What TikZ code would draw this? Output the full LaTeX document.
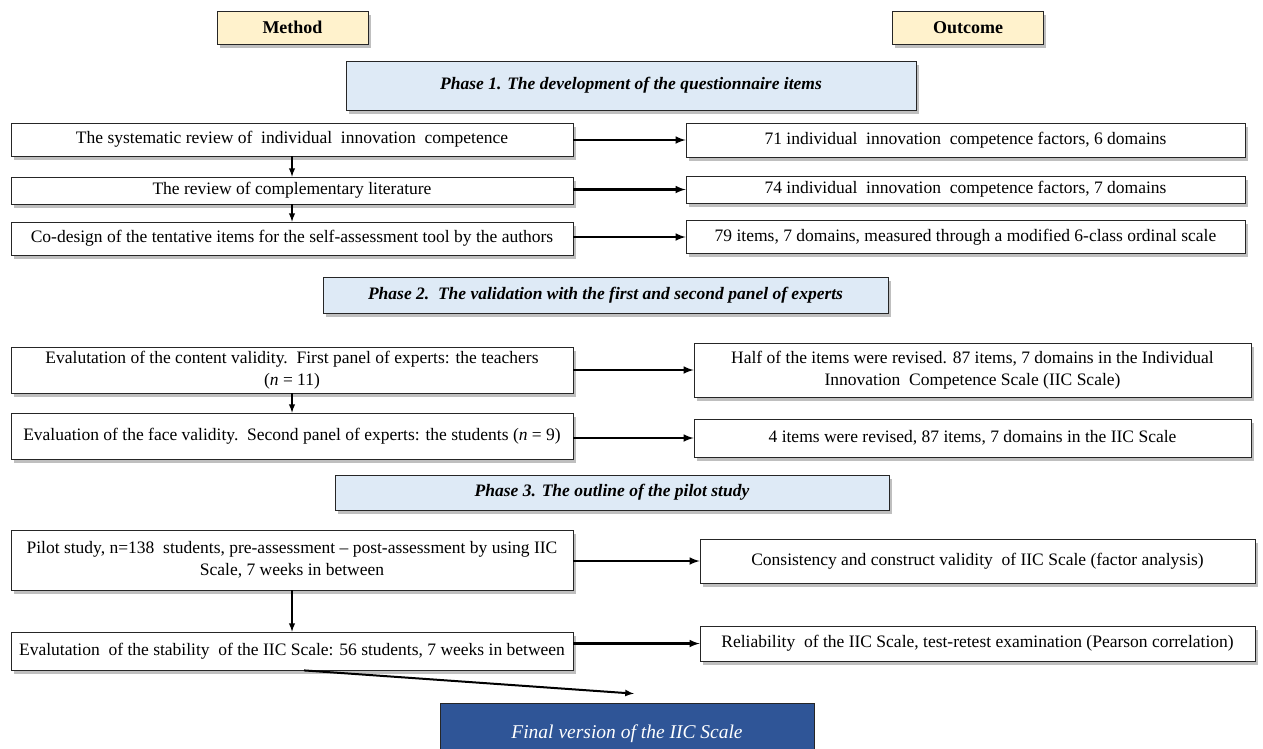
\documentclass[tikz,border=0pt]{standalone}
\usepackage{fontspec}
\setmainfont{Liberation Serif}
\usetikzlibrary{shadows}
\definecolor{headyellow}{RGB}{255,242,204}
\definecolor{phaseblue}{RGB}{222,234,246}
\definecolor{finalblue}{RGB}{47,85,151}
\begin{document}
\begin{tikzpicture}[x=1pt,y=1pt,
    box/.style={draw=black!85, line width=0.8pt, fill=white, align=center, inner sep=2pt,
      drop shadow={shadow xshift=2.5pt, shadow yshift=-3.5pt, opacity=0.5},
      font=\fontsize{17.5}{22}\selectfont},
    headbox/.style={box, fill=headyellow, minimum width=151pt, minimum height=33pt,
      font=\fontsize{18}{21}\selectfont\bfseries},
    phasebox/.style={box, fill=phaseblue, font=\fontsize{17.5}{21}\selectfont\bfseries\itshape},
    finalbox/.style={draw=black!85, line width=0.8pt, fill=finalblue, text=white,
      font=\fontsize{19.5}{23}\selectfont\itshape},
    flow/.style={-latex, line width=2.4pt},
    down/.style={-latex, line width=1.8pt}]
    \useasboundingbox (0,0) rectangle (1263,-748);
    
    % column heads
    \node[headbox] (method) at (292.5,-27.5) {Method};
    \node[headbox] (outcome) at (968,-27.5) {Outcome};
    
    % phase 1
    \node[phasebox, minimum width=570pt, minimum height=49pt] (phaseone) at (631,-85.5)
    {Phase 1. The development of the questionnaire items};
    \node[box, minimum width=562pt, minimum height=33pt] (sysrev) at (292,-139.5)
    {The systematic review of\ \ individual\ \ innovation\ \ competence};
    \node[box, minimum width=559pt, minimum height=34pt] (factorsix) at (965.5,-140)
    {71 individual\ \ innovation\ \ competence factors, 6 domains};
    \node[box, minimum width=562pt, minimum height=27pt] (litrev) at (292,-190.5)
    {The review of complementary literature};
    \node[box, minimum width=559pt, minimum height=27pt] (factorseven) at (965.5,-189.5)
    {74 individual\ \ innovation\ \ competence factors, 7 domains};
    \node[box, minimum width=562pt, minimum height=33pt] (codesign) at (292,-238.5)
    {Co-design of the tentative items for the self-assessment tool by the authors};
    \node[box, minimum width=559pt, minimum height=33pt] (itemsnine) at (965.5,-237)
    {79 items, 7 domains, measured through a modified 6-class ordinal scale};
    
    % phase 2
    \node[phasebox, minimum width=565pt, minimum height=36pt] (phasetwo) at (605.5,-295)
    {Phase 2.\ \ The validation with the first and second panel of experts};
    \node[box, minimum width=562pt, minimum height=46pt] (content) at (292,-370)
    {Evalutation of the content validity.\ \ First panel of experts: the teachers\\(\textit{n} = 11)};
    \node[box, minimum width=557pt, minimum height=54pt] (halfrev) at (972.5,-370)
    {Half of the items were revised. 87 items, 7 domains in the Individual\\Innovation\ \ Competence Scale (IIC Scale)};
    \node[box, minimum width=562pt, minimum height=46pt] (face) at (292,-436)
    {Evaluation of the face validity.\ \ Second panel of experts: the students (\textit{n} = 9)};
    \node[box, minimum width=557pt, minimum height=38pt] (fourrev) at (972.5,-438)
    {4 items were revised, 87 items, 7 domains in the IIC Scale};
    
    % phase 3
    \node[phasebox, minimum width=554pt, minimum height=35pt] (phasethree) at (612,-492.5)
    {Phase 3. The outline of the pilot study};
    \node[box, minimum width=562pt, minimum height=60pt] (pilot) at (292,-560)
    {Pilot study, n=138\ \ students, pre-assessment -- post-assessment by using IIC\\Scale, 7 weeks in between};
    \node[box, minimum width=555pt, minimum height=44pt] (construct) at (977.5,-561)
    {Consistency and construct validity\ \ of IIC Scale (factor analysis)};
    \node[box, minimum width=562pt, minimum height=38pt] (stability) at (292,-651)
    {Evalutation\ \ of the stability\ \ of the IIC Scale: 56 students, 7 weeks in between};
    \node[box, minimum width=555pt, minimum height=35pt] (retest) at (977.5,-643.5)
    {Reliability\ \ of the IIC Scale, test-retest examination (Pearson correlation)};
    
    \node[finalbox, minimum width=374pt, minimum height=62pt] (final) at (627,-734)
    {Final version of the IIC Scale};
    
    % method -> outcome
    \draw[flow] (sysrev.east |- factorsix) -- (factorsix.west);
    \draw[flow] (litrev.east |- factorseven) -- (factorseven.west);
    \draw[flow] (codesign.east |- itemsnine) -- (itemsnine.west);
    \draw[flow] (content.east |- halfrev) -- (halfrev.west);
    \draw[flow] (face.east |- fourrev) -- (fourrev.west);
    \draw[flow] (pilot.east |- construct) -- (construct.west);
    \draw[flow] (stability.east |- retest) -- (retest.west);
    
    % down the method column
    \draw[down] (sysrev.south) -- (litrev.north);
    \draw[down] (litrev.south) -- (codesign.north);
    \draw[down] (content.south) -- (face.north);
    \draw[down] (pilot.south) -- (stability.north);
    \draw[flow, line width=2pt] ([xshift=12pt]stability.south) -- ([xshift=7pt,yshift=9pt]final.north); % to final
\end{tikzpicture}
\end{document}
